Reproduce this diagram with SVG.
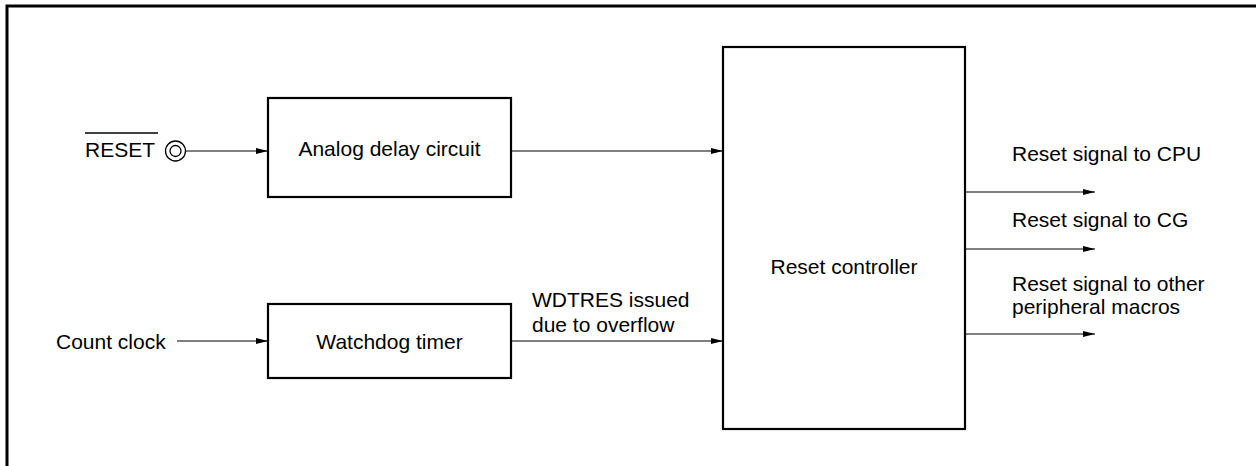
<svg xmlns="http://www.w3.org/2000/svg" width="1256" height="466" viewBox="0 0 1256 466">
<style>
  text { font-family: "Liberation Sans", Arial, sans-serif; font-size: 21px; fill: #000; }
  .box { fill: #fff; stroke: #000; stroke-width: 2.2; }
  .wire { stroke: #000; stroke-width: 1.2; fill: none; }
</style>
<defs>
  <marker id="arr" viewBox="0 0 12 6" refX="12" refY="3" markerWidth="12" markerHeight="6" markerUnits="userSpaceOnUse" orient="auto">
    <path d="M0,0 L12,3 L0,6 Z" fill="#000"/>
  </marker>
</defs>
<rect width="1256" height="466" fill="#fff"/>
<path d="M7,466 V6 H1256" fill="none" stroke="#000" stroke-width="3"/>

<g id="reset-pin">
  <text x="85" y="157">RESET</text>
  <line x1="85" y1="133" x2="158" y2="133" stroke="#000" stroke-width="1.5"/>
  <circle cx="175.5" cy="151" r="10" fill="none" stroke="#000" stroke-width="1.3"/>
  <circle cx="175.5" cy="151" r="5.5" fill="none" stroke="#000" stroke-width="1.3"/>
</g>
<g id="count-clock">
  <text x="56" y="349">Count clock</text>
</g>
<g id="analog-delay">
  <rect class="box" x="268" y="98" width="243" height="99"/>
  <text x="389.5" y="156" text-anchor="middle">Analog delay circuit</text>
</g>
<g id="watchdog">
  <rect class="box" x="268" y="304" width="243" height="74"/>
  <text x="389.5" y="349" text-anchor="middle">Watchdog timer</text>
</g>
<g id="reset-controller">
  <rect class="box" x="723" y="47" width="242" height="382"/>
  <text x="844" y="274" text-anchor="middle">Reset controller</text>
</g>
<g id="outputs">
  <text x="1012" y="161">Reset signal to CPU</text>
  <text x="1012" y="227">Reset signal to CG</text>
  <text x="1012" y="291">Reset signal to other</text>
  <text x="1012" y="314">peripheral macros</text>
</g>
<g id="connectors">
  <line class="wire" x1="186" y1="151" x2="268" y2="151" marker-end="url(#arr)"/>
  <line class="wire" x1="511" y1="151" x2="723" y2="151" marker-end="url(#arr)"/>
  <line class="wire" x1="177" y1="341" x2="268" y2="341" marker-end="url(#arr)"/>
  <line class="wire" x1="511" y1="341" x2="723" y2="341" marker-end="url(#arr)"/>
  <text x="532" y="307">WDTRES issued</text>
  <text x="532" y="332">due to overflow</text>
  <line class="wire" x1="965" y1="192" x2="1095" y2="192" marker-end="url(#arr)"/>
  <line class="wire" x1="965" y1="249" x2="1095" y2="249" marker-end="url(#arr)"/>
  <line class="wire" x1="965" y1="334" x2="1095" y2="334" marker-end="url(#arr)"/>
</g>
</svg>
